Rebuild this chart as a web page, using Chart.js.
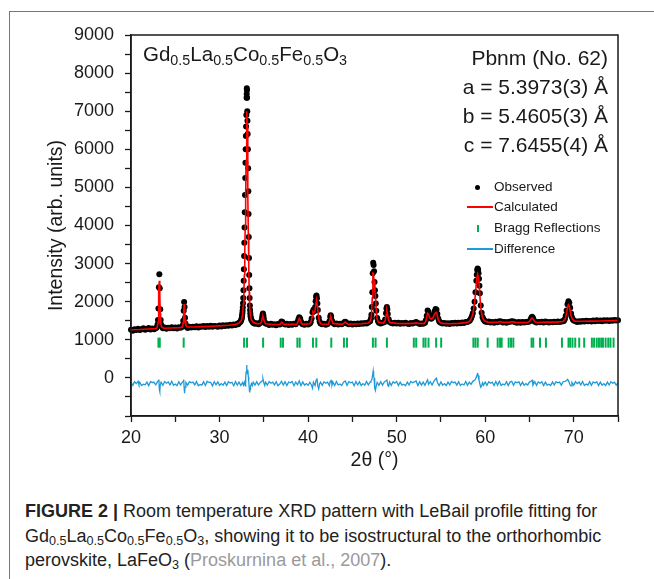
<!DOCTYPE html>
<html>
<head>
<meta charset="utf-8">
<script src="https://cdn.jsdelivr.net/npm/chart.js@4.4.1/dist/chart.umd.min.js"></script>
<style>
  body { margin: 0; width: 654px; height: 579px; background: #fff; position: relative; overflow: hidden;
         font-family: "Liberation Sans", Arial, sans-serif; color: #1a1a1a; }
  #frame { position: absolute; left: 9px; top: 11px; width: 645px; height: 570px;
           border-left: 1px solid #777; border-top: 1px solid #777; }
  #xrdChart { position: absolute; left: 0; top: 0; }
  .note { position: absolute; white-space: nowrap; }
  .note sub { font-size: 0.7em; vertical-align: -0.28em; line-height: 0; }
  #formula { left: 143px; top: 44px; font-size: 20.5px; line-height: 1; }
  #cell { right: 46px; top: 43px; font-size: 21px; line-height: 29px; text-align: right; }
  #legend { left: 494px; top: 176.5px; font-size: 13.5px; line-height: 20.7px; }
  .sym { position: absolute; }
  .swatch { position: absolute; left: 467px; width: 26px; height: 2px; }
  #caption { position: absolute; left: 25px; top: 499px; font-size: 18px; line-height: 24.5px; color: #222; }
  #caption div { white-space: nowrap; }
  #caption sub { font-size: 0.7em; vertical-align: -0.25em; line-height: 0; }
  #caption .ref { color: #9a9a9a; }
</style>
</head>
<body>
<div id="frame"></div>
<canvas id="xrdChart" width="654" height="480"></canvas>

<div class="note" id="formula">Gd<sub>0.5</sub>La<sub>0.5</sub>Co<sub>0.5</sub>Fe<sub>0.5</sub>O<sub>3</sub></div>
<div class="note" id="cell">Pbnm (No. 62)<br>a = 5.3973(3) Å<br>b = 5.4605(3) Å<br>c = 7.6455(4) Å</div>

<div class="sym" style="left:475px;top:185px;width:5px;height:5px;border-radius:50%;background:#000"></div>
<div class="swatch" style="top:206px;background:#ff0000"></div>
<div class="sym" style="left:477px;top:225px;width:2px;height:7px;background:#00b050"></div>
<div class="swatch" style="top:248px;background:#1f9ad8"></div>
<div class="note" id="legend">Observed<br>Calculated<br>Bragg Reflections<br>Difference</div>

<div id="caption">
  <div><b>FIGURE 2 |</b> Room temperature XRD pattern with LeBail profile fitting for</div>
  <div>Gd<sub>0.5</sub>La<sub>0.5</sub>Co<sub>0.5</sub>Fe<sub>0.5</sub>O<sub>3</sub>, showing it to be isostructural to the orthorhombic</div>
  <div>perovskite, LaFeO<sub>3</sub> (<span class="ref">Proskurnina et al., 2007</span>).</div>
</div>

<script>
// observed intensity, [2theta, counts]
const observed = [
  [20.0,1265],[20.2,1240],[20.4,1280],[20.6,1255],[20.8,1290],[21.0,1260],[21.2,1275],[21.4,1300],[21.6,1265],[21.8,1285],
  [22.0,1310],[22.2,1270],[22.4,1295],[22.6,1280],[22.8,1305],
  [22.9,1320],[23.0,1400],[23.05,1520],[23.1,1820],[23.15,2380],[23.2,2720],[23.25,2350],[23.3,1800],[23.35,1520],[23.4,1400],[23.5,1340],
  [23.6,1300],[23.8,1320],[24.0,1290],[24.2,1315],[24.4,1300],[24.6,1330],[24.8,1305],[25.0,1320],[25.2,1295],[25.4,1330],[25.6,1315],
  [25.8,1345],[25.85,1380],[25.9,1500],[25.95,1760],[26.0,1990],[26.05,1860],[26.1,1580],[26.15,1430],[26.2,1370],[26.3,1335],
  [26.4,1310],[26.6,1340],[26.8,1320],[27.0,1345],[27.2,1330],[27.4,1355],[27.6,1325],[27.8,1350],[28.0,1340],[28.2,1365],
  [28.4,1335],[28.6,1360],[28.8,1345],[29.0,1370],[29.2,1340],[29.4,1365],[29.6,1355],[29.8,1340],[30.0,1375],[30.2,1350],
  [30.4,1380],[30.6,1360],[30.8,1385],[31.0,1370],[31.2,1395],[31.4,1375],[31.6,1400],[31.8,1390],[32.0,1420],[32.1,1410],
  [32.2,1440],[32.3,1460],[32.4,1490],[32.45,1520],
  [32.5,1560],[32.525,1600],[32.55,1640],[32.575,1700],[32.6,1760],[32.625,1850],[32.65,1960],[32.675,2100],[32.7,2300],
  [32.725,2550],[32.75,2850],[32.775,3200],[32.8,3550],[32.825,3950],[32.85,4350],[32.875,4800],[32.9,5250],[32.925,5650],
  [32.95,6000],[32.975,6350],[33.0,6600],[33.025,6900],[33.05,7350],[33.065,7450],[33.08,7600],[33.095,7550],[33.11,7350],
  [33.13,7000],[33.15,6750],[33.175,6400],[33.2,6000],[33.225,5500],[33.25,4900],[33.275,4300],[33.3,3700],[33.325,3150],
  [33.35,2700],[33.375,2350],[33.4,2100],[33.425,1900],[33.45,1780],[33.475,1690],[33.5,1620],[33.55,1560],[33.6,1520],
  [33.7,1480],[33.8,1450],[33.9,1440],[34.0,1420],[34.2,1435],[34.4,1410],[34.6,1440],
  [34.7,1480],[34.8,1580],[34.85,1650],[34.9,1690],[34.95,1640],[35.0,1560],[35.1,1470],[35.2,1430],
  [35.4,1415],[35.6,1390],[35.8,1420],[36.0,1395],[36.2,1410],[36.4,1385],[36.6,1415],[36.8,1400],
  [36.9,1440],[37.0,1480],[37.1,1465],[37.2,1430],
  [37.4,1400],[37.6,1420],[37.8,1390],[38.0,1415],[38.2,1395],[38.4,1420],[38.6,1405],
  [38.8,1460],[38.9,1530],[39.0,1595],[39.1,1560],[39.2,1480],[39.3,1430],
  [39.4,1410],[39.6,1395],[39.8,1420],[40.0,1400],[40.2,1430],
  [40.3,1470],[40.4,1560],[40.5,1720],[40.6,1790],[40.7,1750],[40.8,1860],[40.85,2010],[40.9,2130],[40.95,2160],[41.0,2090],
  [41.05,1950],[41.1,1780],[41.2,1580],[41.3,1480],[41.4,1430],
  [41.6,1405],[41.8,1420],[42.0,1395],[42.2,1415],
  [42.4,1480],[42.5,1600],[42.55,1645],[42.6,1610],[42.7,1500],[42.8,1440],
  [43.0,1410],[43.2,1425],[43.4,1400],[43.6,1420],[43.8,1405],
  [44.0,1435],[44.1,1460],[44.2,1475],[44.3,1455],[44.4,1430],
  [44.6,1410],[44.8,1425],[45.0,1400],[45.2,1420],[45.4,1410],[45.6,1430],[45.8,1415],[46.0,1435],[46.2,1420],[46.4,1440],
  [46.6,1430],[46.8,1455],
  [47.0,1490],[47.1,1560],[47.15,1660],[47.2,1860],[47.25,2250],[47.3,2750],[47.35,3020],[47.4,2960],[47.45,2800],[47.5,2520],
  [47.55,2300],[47.6,2150],[47.65,1950],[47.7,1760],[47.8,1570],[47.9,1490],[48.0,1450],
  [48.2,1430],[48.4,1445],[48.6,1460],
  [48.7,1530],[48.8,1700],[48.85,1820],[48.9,1860],[48.95,1800],[49.0,1680],[49.1,1540],[49.2,1470],
  [49.4,1440],[49.6,1425],[49.8,1450],[50.0,1430],[50.2,1445],[50.4,1420],[50.6,1440],[50.8,1425],[51.0,1450],[51.2,1430],
  [51.4,1415],[51.6,1440],[51.8,1425],[52.0,1445],[52.2,1465],[52.4,1440],[52.6,1415],[52.8,1430],[53.0,1420],
  [53.2,1450],[53.3,1510],[53.4,1630],[53.5,1770],[53.6,1730],[53.7,1630],[53.8,1570],[53.9,1550],[54.0,1570],[54.1,1610],
  [54.2,1670],[54.3,1750],[54.4,1810],[54.5,1790],[54.6,1680],[54.7,1560],[54.8,1490],[54.9,1460],
  [55.0,1450],[55.2,1425],[55.4,1440],[55.6,1420],[55.8,1435],[56.0,1415],[56.2,1440],[56.4,1425],[56.6,1445],[56.8,1430],
  [57.0,1450],[57.2,1435],[57.4,1455],[57.6,1440],[57.8,1465],[58.0,1470],
  [58.2,1495],[58.3,1520],[58.4,1560],[58.5,1620],[58.6,1700],[58.7,1820],[58.8,2000],[58.9,2250],[59.0,2550],[59.05,2710],
  [59.1,2830],[59.15,2870],[59.2,2840],[59.25,2750],[59.3,2600],[59.35,2420],[59.4,2220],[59.5,1900],[59.6,1710],[59.7,1600],
  [59.8,1540],[59.9,1505],
  [60.0,1480],[60.2,1465],[60.4,1480],[60.6,1455],[60.8,1470],[61.0,1450],[61.2,1475],[61.4,1460],[61.6,1490],[61.8,1480],
  [62.0,1455],[62.2,1470],[62.4,1450],[62.6,1465],[62.8,1475],[63.0,1490],[63.2,1480],[63.4,1460],[63.6,1445],[63.8,1465],
  [64.0,1450],[64.2,1470],[64.4,1455],[64.6,1465],[64.8,1470],
  [65.0,1480],[65.1,1520],[65.2,1575],[65.3,1605],[65.4,1575],[65.5,1515],[65.6,1475],
  [65.8,1455],[66.0,1470],[66.2,1460],[66.4,1475],[66.6,1455],[66.8,1480],[67.0,1470],[67.2,1455],[67.4,1470],[67.6,1460],
  [67.8,1475],[68.0,1465],[68.2,1480],[68.4,1465],[68.6,1480],[68.8,1490],
  [68.9,1500],[69.0,1545],[69.1,1630],[69.2,1770],[69.3,1930],[69.4,2010],[69.5,1970],[69.6,1840],[69.7,1690],[69.8,1590],
  [69.9,1535],[70.0,1505],
  [70.2,1485],[70.4,1470],[70.6,1490],[70.8,1475],[71.0,1495],[71.2,1480],[71.4,1500],[71.6,1485],[71.8,1495],[72.0,1480],
  [72.2,1505],[72.4,1490],[72.6,1510],[72.8,1495],[73.0,1505],[73.2,1490],[73.4,1510],[73.6,1500],[73.8,1515],[74.0,1495],
  [74.2,1510],[74.4,1500],[74.6,1520],[74.8,1505],[75.0,1515]
];

// LeBail fit, [2theta, counts]
const calculated = [
  [20.0,1265],[21.0,1272],[22.0,1285],[22.8,1295],[22.95,1320],[23.05,1450],[23.1,1750],[23.15,2300],[23.2,2550],[23.25,2200],
  [23.3,1700],[23.35,1450],[23.45,1340],[23.7,1305],[24.5,1310],[25.5,1320],[25.8,1335],[25.9,1450],[25.95,1700],[26.0,1940],
  [26.05,1800],[26.1,1520],[26.2,1370],[26.35,1335],[27.0,1335],[28.0,1345],[29.0,1355],[30.0,1365],[31.0,1380],[31.8,1400],
  [32.2,1440],[32.4,1490],[32.5,1540],[32.6,1660],[32.7,1950],[32.75,2250],[32.8,2700],[32.85,3300],[32.9,4000],[32.95,4800],
  [33.0,5700],[33.05,6500],[33.09,7000],[33.13,6600],[33.17,5800],[33.21,4800],[33.25,3800],[33.3,2900],[33.35,2250],[33.4,1900],
  [33.45,1720],[33.5,1620],[33.6,1530],[33.8,1460],[34.2,1420],[34.6,1425],[34.75,1480],[34.85,1590],[34.9,1615],[34.95,1580],
  [35.05,1480],[35.2,1420],[36.0,1400],[36.85,1410],[37.0,1460],[37.1,1450],[37.25,1405],[38.7,1405],[38.85,1460],[39.0,1565],
  [39.1,1530],[39.25,1430],[39.4,1405],[40.2,1420],[40.35,1480],[40.45,1600],[40.55,1740],[40.65,1720],[40.75,1720],[40.85,1900],
  [40.95,2040],[41.05,1900],[41.15,1650],[41.3,1470],[41.45,1415],[42.3,1410],[42.45,1520],[42.55,1625],[42.65,1540],[42.8,1430],
  [43.8,1405],[44.1,1445],[44.2,1465],[44.3,1445],[44.5,1410],[46.0,1420],[46.8,1440],[47.05,1500],[47.15,1620],[47.25,2100],
  [47.32,2750],[47.38,2740],[47.45,2550],[47.55,2250],[47.62,2100],[47.7,1750],[47.8,1540],[47.95,1460],[48.5,1440],[48.7,1500],
  [48.8,1650],[48.9,1760],[49.0,1650],[49.1,1510],[49.25,1450],[50.0,1430],[51.0,1425],[52.0,1430],[52.2,1450],[52.4,1430],
  [53.1,1425],[53.3,1490],[53.4,1600],[53.5,1700],[53.6,1680],[53.75,1570],[53.9,1540],[54.1,1580],[54.3,1680],[54.45,1720],
  [54.55,1680],[54.7,1530],[54.85,1460],[55.1,1430],[56.0,1420],[57.0,1430],[57.8,1450],[58.2,1480],[58.4,1540],[58.6,1670],
  [58.8,1950],[58.95,2350],[59.05,2620],[59.15,2720],[59.25,2620],[59.35,2350],[59.45,2000],[59.55,1760],[59.7,1580],[59.9,1500],
  [60.3,1465],[61.4,1460],[61.7,1480],[61.9,1465],[62.8,1460],[63.0,1475],[63.2,1470],[63.5,1455],[64.8,1455],[65.0,1480],
  [65.15,1540],[65.3,1570],[65.45,1530],[65.6,1470],[65.9,1455],[66.9,1465],[68.0,1465],[68.8,1480],[69.0,1530],[69.1,1600],
  [69.2,1720],[69.3,1860],[69.4,1920],[69.5,1880],[69.6,1760],[69.7,1630],[69.85,1540],[70.1,1490],[71.0,1485],[72.0,1490],
  [73.0,1495],[74.0,1500],[75.0,1510]
];

// observed minus calculated, shown with an offset
const difference = [
  [20.0,-120],[20.2,-195],[20.4,-100],[20.6,-150],[20.8,-90],[20.9,-170],[21.0,-125],[21.2,-200],[21.4,-165],[21.6,-180],
  [21.8,-110],[22.0,-205],[22.2,-100],[22.4,-120],[22.6,-115],[22.8,-180],[23.0,-100],[23.1,-70],[23.15,-40],[23.2,-310],
  [23.25,-360],[23.3,-190],[23.4,-110],[23.6,-195],[23.8,-95],[24.0,-140],[24.2,-105],[24.4,-185],[24.6,-90],[24.8,-195],
  [25.0,-160],[25.2,-205],[25.4,-100],[25.6,-185],[25.8,-110],[25.9,-90],[25.95,-40],[26.0,-260],[26.05,-400],[26.1,-240],
  [26.2,-120],[26.4,-190],[26.6,-100],[26.8,-130],[27.0,-110],[27.2,-185],[27.4,-95],[27.6,-205],[27.8,-170],[28.0,-190],
  [28.2,-100],[28.4,-200],[28.6,-90],[28.8,-120],[29.0,-120],[29.2,-210],[29.4,-100],[29.6,-180],[29.8,-105],[30.0,-195],
  [30.2,-150],[30.4,-190],[30.6,-110],[30.8,-200],[31.0,-100],[31.2,-135],[31.4,-115],[31.6,-205],[31.8,-95],[32.0,-190],
  [32.2,-110],[32.4,-200],[32.6,-120],[32.7,-190],[32.8,-110],[32.9,-210],[32.95,0],[33.0,160],[33.05,340],[33.1,270],
  [33.15,110],[33.2,210],[33.25,30],[33.3,-90],[33.35,-260],[33.4,-380],[33.45,-300],[33.5,-230],[33.6,-150],[33.7,-200],
  [33.8,-110],[34.0,-190],[34.2,-100],[34.4,-185],[34.6,-120],[34.8,-80],[34.9,-20],[35.0,-130],[35.1,-200],[35.2,-110],
  [35.4,-190],[35.6,-95],[35.8,-140],[36.0,-110],[36.2,-185],[36.4,-100],[36.6,-205],[36.8,-160],[37.0,-90],[37.2,-190],
  [37.4,-100],[37.6,-200],[37.8,-110],[38.0,-130],[38.2,-95],[38.4,-205],[38.6,-110],[38.8,-180],[39.0,-80],[39.2,-200],
  [39.4,-105],[39.6,-190],[39.8,-150],[40.0,-195],[40.2,-115],[40.4,-200],[40.5,-270],[40.6,-110],[40.8,-200],[40.9,-60],
  [41.0,-10],[41.1,-210],[41.2,-290],[41.3,-160],[41.4,-110],[41.6,-195],[41.8,-100],[42.0,-140],[42.2,-110],[42.4,-200],
  [42.5,-90],[42.6,-70],[42.7,-190],[42.8,-110],[43.0,-200],[43.2,-95],[43.4,-185],[43.6,-160],[43.8,-200],[44.0,-110],
  [44.2,-80],[44.4,-195],[44.6,-100],[44.8,-130],[45.0,-110],[45.2,-205],[45.4,-95],[45.6,-185],[45.8,-100],[46.0,-200],
  [46.2,-150],[46.4,-190],[46.6,-95],[46.8,-185],[47.0,-110],[47.1,-80],[47.2,-50],[47.3,90],[47.35,180],[47.4,70],
  [47.45,-10],[47.5,-130],[47.55,-270],[47.6,-330],[47.7,-210],[47.8,-120],[48.0,-195],[48.2,-100],[48.4,-190],[48.6,-110],
  [48.8,-70],[48.9,-40],[49.0,-190],[49.1,-220],[49.2,-110],[49.4,-195],[49.6,-100],[49.8,-140],[50.0,-95],[50.2,-200],
  [50.4,-110],[50.6,-190],[50.8,-165],[51.0,-205],[51.2,-110],[51.4,-185],[51.6,-95],[51.8,-130],[52.0,-105],[52.2,-80],
  [52.4,-200],[52.6,-100],[52.8,-190],[53.0,-110],[53.2,-195],[53.4,-90],[53.5,-50],[53.6,-170],[53.8,-100],[54.0,-190],
  [54.2,-90],[54.4,-30],[54.5,-10],[54.6,-120],[54.8,-200],[55.0,-105],[55.2,-190],[55.4,-150],[55.6,-200],[55.8,-110],
  [56.0,-185],[56.2,-95],[56.4,-130],[56.6,-110],[56.8,-190],[57.0,-100],[57.2,-200],[57.4,-160],[57.6,-185],[57.8,-95],
  [58.0,-195],[58.2,-110],[58.4,-170],[58.6,-90],[58.8,-60],[58.9,-30],[59.0,20],[59.1,90],[59.15,130],[59.2,60],
  [59.3,-60],[59.4,-160],[59.5,-245],[59.6,-210],[59.7,-130],[59.8,-190],[60.0,-110],[60.2,-195],[60.4,-100],[60.6,-140],
  [60.8,-110],[61.0,-200],[61.2,-95],[61.4,-190],[61.6,-90],[61.8,-200],[62.0,-160],[62.2,-185],[62.4,-100],[62.6,-200],
  [62.8,-110],[63.0,-90],[63.2,-195],[63.4,-105],[63.6,-130],[63.8,-100],[64.0,-200],[64.2,-110],[64.4,-190],[64.6,-150],
  [64.8,-185],[65.0,-110],[65.2,-80],[65.3,-60],[65.4,-190],[65.6,-100],[65.8,-195],[66.0,-105],[66.2,-140],[66.4,-100],
  [66.6,-200],[66.8,-110],[67.0,-190],[67.2,-165],[67.4,-200],[67.6,-105],[67.8,-185],[68.0,-100],[68.2,-130],[68.4,-110],
  [68.6,-190],[68.8,-100],[69.0,-90],[69.2,-70],[69.3,-40],[69.4,-70],[69.5,-130],[69.6,-190],[69.7,-210],[69.8,-120],
  [70.0,-190],[70.2,-100],[70.4,-150],[70.6,-110],[70.8,-185],[71.0,-95],[71.2,-200],[71.4,-160],[71.6,-190],[71.8,-100],
  [72.0,-195],[72.2,-105],[72.4,-135],[72.6,-100],[72.8,-200],[73.0,-110],[73.2,-190],[73.4,-150],[73.6,-200],[73.8,-110],
  [74.0,-185],[74.2,-100],[74.4,-140],[74.6,-110],[74.8,-190],[75.0,-130]
];

// Bragg reflection positions (2theta) and the level their ticks sit at
const braggPositions = [
  23.1, 23.25, 25.95, 32.77, 33.1, 34.92, 36.91, 37.17, 38.79, 39.05, 40.55, 40.93, 42.62, 44.05, 44.39,
  47.32, 47.62, 48.9, 51.94, 52.21, 53.03, 53.26, 53.6, 54.46, 55.03, 58.67, 58.9, 59.16, 60.28,
  61.41, 61.68, 61.86, 62.65, 62.92, 63.18, 65.24, 65.43, 66.19, 66.86, 68.67, 69.41, 69.6, 69.86, 70.17,
  70.62, 71.18, 72.05, 72.3, 72.6, 72.85, 73.1, 73.3, 73.6, 73.9, 74.15, 74.5
];
const braggLevel = 925;

const yLabelled = [0, 1000, 2000, 3000, 4000, 5000, 6000, 7000, 8000, 9000];
const xLabelled = [20, 30, 40, 50, 60, 70];

const toPoints = arr => arr.map(p => ({x: p[0], y: p[1]}));
const family = '"Liberation Sans", Arial, sans-serif';
const tickFont = {family: family, size: 18};
const titleFont = {family: family, size: 19.5};
const ink = '#1a1a1a';

const plotFrame = {
    id: 'plotFrame',
    afterDraw(chart) {
        const {ctx, chartArea: a} = chart;
        ctx.save();
        ctx.strokeStyle = ink;
        ctx.lineWidth = 1.5;
        ctx.strokeRect(a.left, a.top, a.right - a.left, a.bottom - a.top);
        ctx.restore();
    }
};

const ctx = document.getElementById('xrdChart').getContext('2d');
new Chart(ctx, {
    type: 'scatter',
    data: {
        datasets: [{
            label: 'Observed',
            data: toPoints(observed),
            backgroundColor: '#000',
            borderWidth: 0,
            pointRadius: 3,
            clip: false,
            order: 4
        }, {
            label: 'Calculated',
            data: toPoints(calculated),
            showLine: true,
            borderColor: '#ff0000',
            borderWidth: 1.6,
            pointRadius: 0,
            order: 3
        }, {
            label: 'Bragg Reflections',
            data: braggPositions.map(x => ({x: x, y: braggLevel})),
            pointStyle: 'line',
            rotation: 90,
            pointRadius: 5,
            borderColor: '#00b050',
            borderWidth: 2,
            order: 2
        }, {
            label: 'Difference',
            data: toPoints(difference),
            showLine: true,
            borderColor: '#1f9ad8',
            borderWidth: 1.3,
            pointRadius: 0,
            order: 1
        }]
    },
    options: {
        responsive: false,
        animation: false,
        events: [],
        layout: {padding: {left: 0, top: 35, right: 36, bottom: 0}},
        scales: {
            x: {
                type: 'linear',
                min: 20,
                max: 75,
                afterFit: scale => { scale.height = 64; },
                border: {display: true, color: ink, width: 1.5},
                grid: {drawOnChartArea: false, drawTicks: true, tickLength: 6, tickColor: ink, tickWidth: 1.3},
                ticks: {
                    stepSize: 5,
                    autoSkip: false,
                    maxRotation: 0,
                    padding: 5,
                    color: ink,
                    font: tickFont,
                    callback: v => xLabelled.includes(v) ? v : ''
                },
                title: {display: true, text: '2θ (°)', color: ink, font: titleFont, padding: {top: 0, bottom: 8}}
            },
            y: {
                min: -1000,
                max: 9000,
                afterFit: scale => { scale.width = 131; },
                border: {display: true, color: ink, width: 1.5},
                grid: {drawOnChartArea: false, drawTicks: true, tickLength: 6, tickColor: ink, tickWidth: 1.3},
                ticks: {
                    stepSize: 500,
                    autoSkip: false,
                    padding: 11,
                    color: ink,
                    font: tickFont,
                    callback: v => yLabelled.includes(v) ? v : ''
                },
                title: {display: true, text: 'Intensity (arb. units)', color: ink, font: titleFont, padding: {top: 45, bottom: 0}}
            }
        },
        plugins: {
            legend: {display: false},
            tooltip: {enabled: false}
        }
    },
    plugins: [plotFrame]
});
</script>
</body>
</html>
